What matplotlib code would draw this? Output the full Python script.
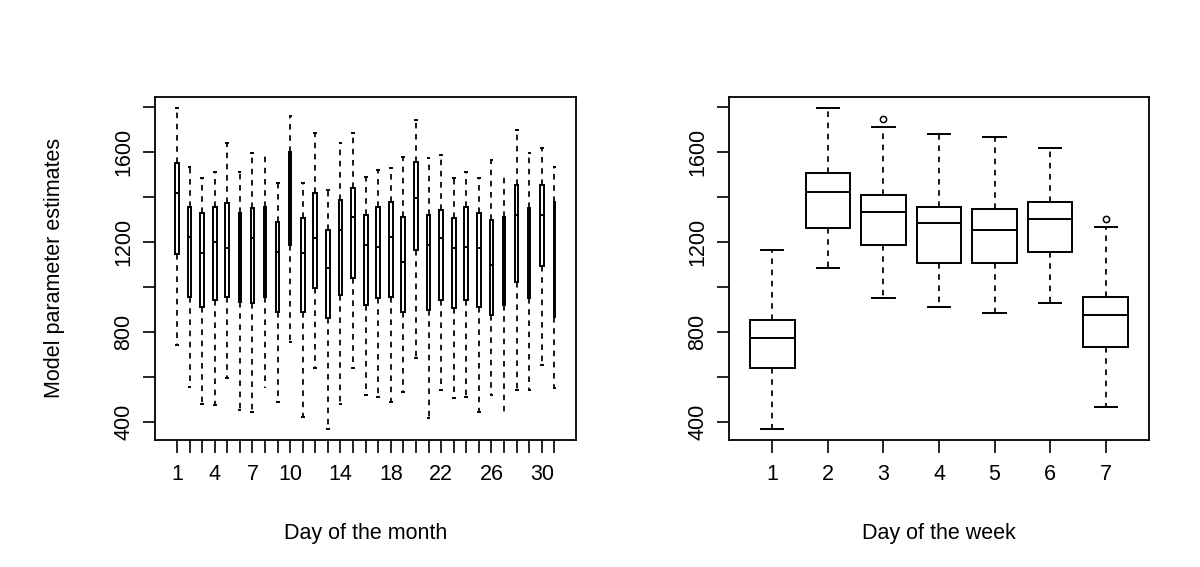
import matplotlib
matplotlib.use("Agg")
import matplotlib.pyplot as plt
import numpy as np

plt.rcParams['font.family'] = ['Liberation Sans', 'DejaVu Sans']

# ---- Day of the month (31 boxes) ----
month_days = list(range(1, 32))
month_whislo = [741, 556, 481, 474, 593, 452, 444, 548, 489, 756, 422, 637, 370, 481, 637,
                519, 511, 489, 533, 681, 415, 541, 504, 511, 444, 519, 444, 541, 541, 652, 548]
month_q1 = [1144, 956, 911, 941, 956, 930, 926, 956, 889, 1185, 889, 993, 859, 963, 1037,
            919, 948, 956, 889, 1163, 896, 941, 904, 941, 911, 874, 919, 1022, 948, 1093, 867]
month_med = [1415, 1222, 1148, 1200, 1170, 1140, 1215, 1160, 1156, 1390, 1148, 1215, 1081, 1252, 1311,
             1185, 1178, 1222, 1111, 1393, 1185, 1215, 1170, 1178, 1170, 1096, 1110, 1319, 1150, 1319, 1120]
month_q3 = [1548, 1356, 1326, 1356, 1370, 1329, 1348, 1356, 1289, 1600, 1304, 1415, 1252, 1385, 1437,
            1319, 1356, 1378, 1311, 1556, 1319, 1341, 1304, 1356, 1326, 1296, 1311, 1452, 1348, 1452, 1378]
month_whishi = [1793, 1533, 1481, 1511, 1637, 1511, 1593, 1600, 1459, 1756, 1459, 1681, 1430, 1637, 1681,
                1489, 1519, 1526, 1578, 1741, 1570, 1585, 1481, 1511, 1481, 1563, 1496, 1696, 1593, 1615, 1533]
# days drawn as narrow (few observations) boxes
month_narrow = [6, 8, 10, 27, 29, 31]
month_ticklabels = [1, 4, 7, 10, 14, 18, 22, 26, 30]

# ---- Day of the week (7 boxes) ----
week_days = [1, 2, 3, 4, 5, 6, 7]
week_whislo = [370, 1081, 948, 911, 881, 926, 467]
week_q1 = [637, 1259, 1185, 1104, 1104, 1156, 733]
week_med = [770, 1422, 1333, 1281, 1252, 1299, 874]
week_q3 = [852, 1507, 1407, 1356, 1344, 1378, 956]
week_whishi = [1163, 1793, 1711, 1677, 1667, 1615, 1263]
week_fliers = [[], [], [1745], [], [], [], [1301]]

yticks = [400, 600, 800, 1000, 1200, 1400, 1600, 1800]
ylabels_shown = [400, 800, 1200, 1600]

FS = 15.5

fig = plt.figure(figsize=(12, 5.67), dpi=100)
ax1 = fig.add_axes([0.1292, 0.224, 0.351, 0.6055])
ax2 = fig.add_axes([0.6075, 0.224, 0.350, 0.6055])

LW = 1.4
dash = (0, (3.2, 3.2))


def draw(ax, pos, lo, q1, med, q3, hi, fliers, widths, facecolors):
    stats = []
    for i in range(len(pos)):
        stats.append(dict(whislo=lo[i], q1=q1[i], med=med[i], q3=q3[i], whishi=hi[i],
                          fliers=fliers[i]))
    bp = ax.bxp(stats, positions=pos, widths=widths, patch_artist=True,
                capwidths=[w * 0.5 for w in widths],
                boxprops=dict(linewidth=LW, edgecolor='black'),
                medianprops=dict(color='black', linewidth=LW),
                whiskerprops=dict(color='black', linewidth=LW * 0.9, linestyle=dash),
                capprops=dict(color='black', linewidth=LW),
                flierprops=dict(marker='o', markerfacecolor='none', markeredgecolor='black',
                                markersize=4.5, markeredgewidth=1.1),
                manage_ticks=False)
    for b, fc in zip(bp['boxes'], facecolors):
        b.set_facecolor(fc)
    return bp


m_widths = [0.12 if d in month_narrow else 0.3 for d in month_days]
m_fc = ['black' if d in month_narrow else 'white' for d in month_days]
draw(ax1, month_days, month_whislo, month_q1, month_med, month_q3, month_whishi,
     [[] for _ in month_days], m_widths, m_fc)
draw(ax2, week_days, week_whislo, week_q1, week_med, week_q3, week_whishi,
     week_fliers, [0.8] * 7, ['white'] * 7)

ax1.set_xlim(-0.74, 32.74)
ax2.set_xlim(0.22, 7.78)

for ax in (ax1, ax2):
    ax.set_ylim(319, 1844)
    ax.set_yticks(yticks)
    ax.set_yticklabels([str(v) if v in ylabels_shown else '' for v in yticks],
                       rotation=90, va='center')
    for s in ax.spines.values():
        s.set_linewidth(1.3)
    ax.tick_params(axis='both', length=9, width=1.2, labelsize=FS, direction='out')
    ax.tick_params(axis='y', pad=6)
    ax.tick_params(axis='x', pad=8)

ax1.set_xticks(month_days)
ax1.set_xticklabels([str(d) if d in month_ticklabels else '' for d in month_days])
ax2.set_xticks(week_days)
ax2.set_xticklabels([str(d) for d in week_days])

ax1.set_xlabel('Day of the month', fontsize=FS, labelpad=28)
ax2.set_xlabel('Day of the week', fontsize=FS, labelpad=28)
ax1.set_ylabel('Model parameter estimates', fontsize=FS, labelpad=35)

fig.savefig('out.png', dpi=100)
